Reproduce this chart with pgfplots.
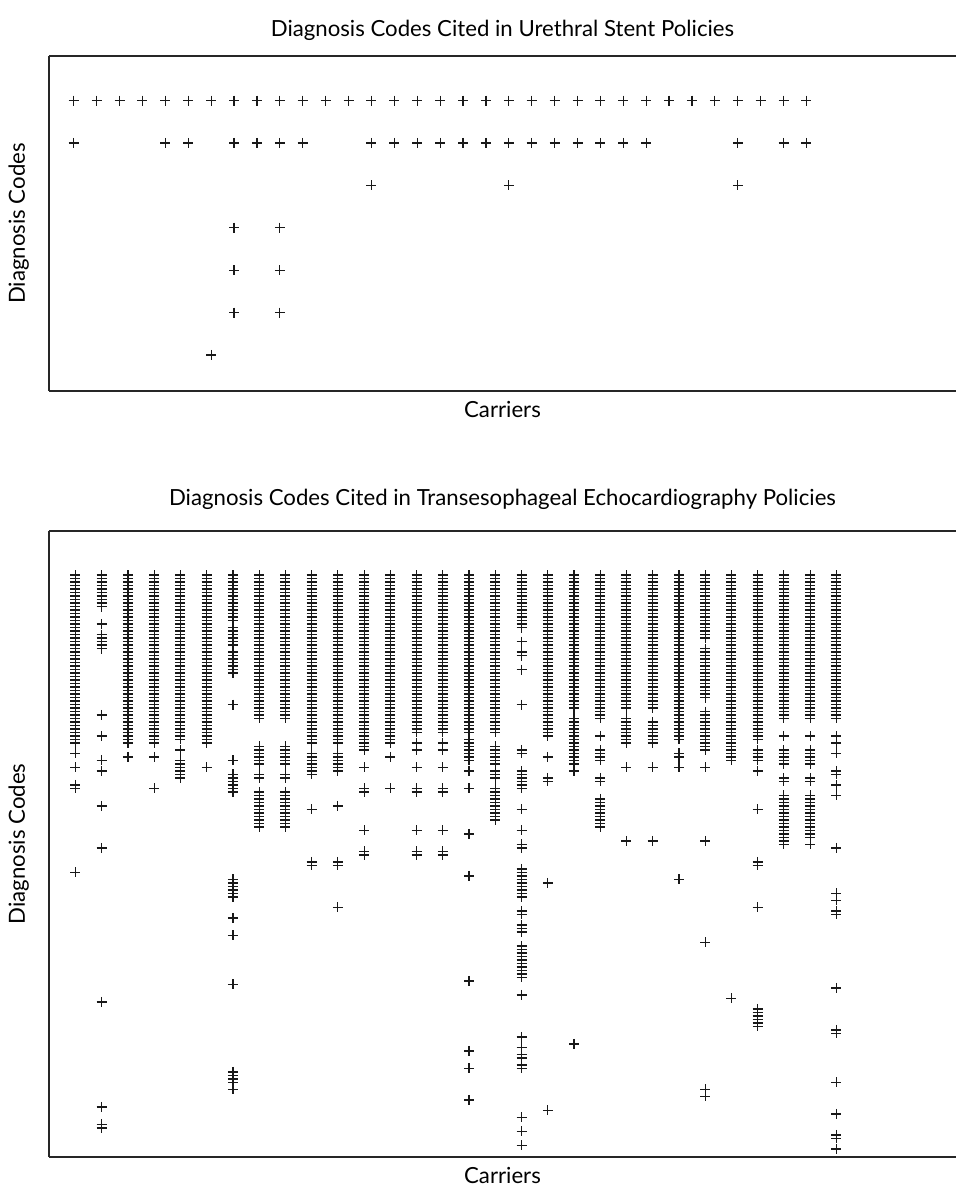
\documentclass[border=0pt]{standalone}
\usepackage{fontspec}
\setmainfont{Lato}
\usepackage{pgfplots}
\pgfplotsset{compat=1.18}

\pgfplotsset{
  dc/.style={only marks, mark=+, mark size=2.5pt, color=black!90, mark options={line width=0.6pt}},
  panel/.style={
    anchor=south west, scale only axis, width=453.5pt,
    font=\fontsize{11.1}{13}\selectfont,
    xtick=\empty, ytick=\empty, y dir=reverse,
    axis x line=box, axis y line=left,
    axis line style={-, line width=0.7pt, black!85},
    every axis x label/.style={at={(0.5,0)}, anchor=base, yshift=-13pt},
    every axis y label/.style={at={(-0.0265,0.5)}, anchor=base, rotate=90},
    xlabel={Carriers}, ylabel={Diagnosis Codes},
    clip=false,
  },
}

\begin{document}
\begin{tikzpicture}
\useasboundingbox (0,0) rectangle (478pt,-593.5pt);

% urethral stent: carrier 1..33, code row 1..7
\begin{axis}[panel, at={(24.5pt,-195.5pt)}, height=167.5pt,
  xmin=-0.08, xmax=39.53, ymin=-0.05, ymax=7.85,
  every axis title/.style={at={(0.5,1)}, anchor=base, yshift=10pt},
  title={Diagnosis Codes Cited in Urethral Stent Policies}]
\addplot[dc] coordinates {
 (1,1) (2,1) (3,1) (4,1) (5,1) (6,1) (7,1) (8,1) (9,1) (10,1) (11,1)
 (12,1) (13,1) (14,1) (15,1) (16,1) (17,1) (18,1) (19,1) (20,1) (21,1) (22,1)
 (23,1) (24,1) (25,1) (26,1) (27,1) (28,1) (29,1) (30,1) (31,1) (32,1) (33,1)
 (1,2) (5,2) (6,2) (8,2) (9,2) (10,2) (11,2) (14,2) (15,2) (16,2) (17,2)
 (18,2) (19,2) (20,2) (21,2) (22,2) (23,2) (24,2) (25,2) (26,2) (30,2) (32,2) (33,2)
 (14,3) (20,3) (30,3)
 (8,4) (10,4) (8,5) (10,5) (8,6) (10,6)
 (7,7)
};
\end{axis}

% transesophageal echocardiography: carrier 1..30, code index 0..164
\begin{axis}[panel, at={(24.5pt,-578.5pt)}, height=313pt,
  xmin=-0.01, xmax=34.56, ymin=-12.57, ymax=166.3,
  every axis title/.style={at={(0.5,1)}, anchor=base, yshift=13pt},
  title={Diagnosis Codes Cited in Transesophageal Echocardiography Policies},
  table/header=false, table/row sep=\\, table/y index=0]
\addplot[dc] table[x expr=1]{0\\1\\2\\3\\4\\5\\6\\7\\8\\9\\10\\11\\12\\13\\14\\15\\16\\17\\18\\19\\20\\21\\22\\23\\24\\25\\26\\27\\28\\29\\30\\31\\32\\33\\34\\35\\36\\37\\38\\39\\40\\41\\42\\43\\44\\45\\46\\47\\48\\51\\55\\60\\61\\85\\};
\addplot[dc] table[x expr=2]{0\\1\\2\\3\\4\\5\\6\\7\\8\\9\\14\\17\\18\\19\\20\\21\\40\\46\\53\\56\\66\\78\\122\\152\\157\\158\\};
\addplot[dc] table[x expr=3]{0\\1\\2\\3\\4\\5\\6\\7\\8\\9\\10\\11\\12\\13\\14\\15\\16\\17\\18\\19\\20\\21\\22\\23\\24\\25\\26\\27\\28\\29\\30\\31\\32\\33\\34\\35\\36\\37\\38\\39\\40\\41\\42\\43\\44\\45\\46\\47\\48\\52\\};
\addplot[dc] table[x expr=4]{0\\1\\2\\3\\4\\5\\6\\7\\8\\9\\10\\11\\12\\13\\14\\15\\16\\17\\18\\19\\20\\21\\22\\23\\24\\25\\26\\27\\28\\29\\30\\31\\32\\33\\34\\35\\36\\37\\38\\39\\40\\41\\42\\43\\44\\45\\46\\47\\48\\52\\61\\};
\addplot[dc] table[x expr=5]{0\\1\\2\\3\\4\\5\\6\\7\\8\\9\\10\\11\\12\\13\\14\\15\\16\\17\\18\\19\\20\\21\\22\\23\\24\\25\\26\\27\\28\\29\\30\\31\\32\\33\\34\\35\\36\\37\\38\\39\\40\\41\\42\\43\\44\\45\\46\\47\\50\\53\\54\\55\\56\\57\\58\\};
\addplot[dc] table[x expr=6]{0\\1\\2\\3\\4\\5\\6\\7\\8\\9\\10\\11\\12\\13\\14\\15\\16\\17\\18\\19\\20\\21\\22\\23\\24\\25\\26\\27\\28\\29\\30\\31\\32\\33\\34\\35\\36\\37\\38\\39\\40\\41\\42\\43\\44\\45\\46\\47\\48\\55\\};
\addplot[dc] table[x expr=7]{0\\1\\2\\3\\4\\5\\6\\7\\8\\9\\10\\11\\12\\13\\15\\16\\17\\18\\19\\20\\22\\23\\24\\25\\26\\27\\28\\37\\53\\57\\58\\59\\60\\61\\62\\87\\88\\89\\90\\91\\92\\98\\103\\117\\142\\143\\144\\145\\147\\};
\addplot[dc] table[x expr=8]{0\\1\\2\\3\\4\\5\\6\\7\\8\\9\\10\\11\\12\\13\\14\\15\\16\\17\\18\\19\\20\\21\\22\\23\\24\\25\\26\\27\\28\\29\\30\\31\\32\\33\\34\\35\\36\\37\\38\\39\\40\\41\\49\\50\\51\\52\\53\\54\\57\\58\\62\\63\\64\\65\\66\\67\\68\\69\\70\\71\\72\\};
\addplot[dc] table[x expr=9]{0\\1\\2\\3\\4\\5\\6\\7\\8\\9\\10\\11\\12\\13\\14\\15\\16\\17\\18\\19\\20\\21\\22\\23\\24\\25\\26\\27\\28\\29\\30\\31\\32\\33\\34\\35\\36\\37\\38\\39\\40\\41\\49\\50\\51\\52\\53\\54\\57\\58\\62\\63\\64\\65\\66\\67\\68\\69\\70\\71\\72\\};
\addplot[dc] table[x expr=10]{0\\1\\2\\3\\4\\5\\6\\7\\8\\9\\10\\11\\12\\13\\14\\15\\16\\17\\18\\19\\20\\21\\22\\23\\24\\25\\26\\27\\28\\29\\30\\31\\32\\33\\34\\35\\36\\37\\38\\39\\40\\41\\42\\43\\44\\45\\46\\47\\48\\51\\52\\53\\54\\55\\56\\57\\67\\82\\83\\};
\addplot[dc] table[x expr=11]{0\\1\\2\\3\\4\\5\\6\\7\\8\\9\\10\\11\\12\\13\\14\\15\\16\\17\\18\\19\\20\\21\\22\\23\\24\\25\\26\\27\\28\\29\\30\\31\\32\\33\\34\\35\\36\\37\\38\\39\\40\\41\\42\\43\\44\\45\\46\\47\\48\\51\\52\\53\\54\\55\\56\\66\\82\\83\\95\\};
\addplot[dc] table[x expr=12]{0\\1\\2\\3\\4\\5\\6\\7\\8\\9\\10\\11\\12\\13\\14\\15\\16\\17\\18\\19\\20\\21\\22\\23\\24\\25\\26\\27\\28\\29\\30\\31\\32\\33\\34\\35\\36\\37\\38\\39\\40\\41\\42\\43\\44\\45\\46\\47\\48\\49\\50\\55\\61\\62\\73\\79\\80\\};
\addplot[dc] table[x expr=13]{0\\1\\2\\3\\4\\5\\6\\7\\8\\9\\10\\11\\12\\13\\14\\15\\16\\17\\18\\19\\20\\21\\22\\23\\24\\25\\26\\27\\28\\29\\30\\31\\32\\33\\34\\35\\36\\37\\38\\39\\40\\41\\42\\43\\44\\45\\46\\47\\48\\52\\61\\};
\addplot[dc] table[x expr=14]{0\\1\\2\\3\\4\\5\\6\\7\\8\\9\\10\\11\\12\\13\\14\\15\\16\\17\\18\\19\\20\\21\\22\\23\\24\\25\\26\\27\\28\\29\\30\\31\\32\\33\\34\\35\\36\\37\\38\\39\\40\\41\\42\\43\\44\\45\\48\\50\\55\\61\\62\\73\\79\\80\\};
\addplot[dc] table[x expr=15]{0\\1\\2\\3\\4\\5\\6\\7\\8\\9\\10\\11\\12\\13\\14\\15\\16\\17\\18\\19\\20\\21\\22\\23\\24\\25\\26\\27\\28\\29\\30\\31\\32\\33\\34\\35\\36\\37\\38\\39\\40\\41\\42\\43\\44\\45\\48\\50\\55\\61\\62\\73\\79\\80\\};
\addplot[dc] table[x expr=16]{0\\1\\2\\3\\4\\5\\6\\7\\8\\9\\10\\11\\12\\13\\14\\15\\16\\17\\18\\19\\20\\21\\22\\23\\24\\25\\26\\27\\28\\29\\30\\31\\32\\33\\34\\35\\36\\37\\38\\39\\40\\41\\42\\43\\44\\45\\47\\48\\49\\50\\51\\52\\53\\56\\61\\74\\86\\116\\136\\141\\150\\};
\addplot[dc] table[x expr=17]{0\\1\\2\\3\\4\\5\\6\\7\\8\\9\\10\\11\\12\\13\\14\\15\\16\\17\\18\\19\\20\\21\\22\\23\\24\\25\\26\\27\\28\\29\\30\\31\\32\\33\\34\\35\\36\\37\\38\\39\\40\\41\\42\\43\\44\\45\\49\\50\\51\\52\\53\\54\\56\\57\\58\\61\\62\\63\\64\\65\\66\\67\\68\\69\\70\\};
\addplot[dc] table[x expr=18]{0\\1\\2\\3\\4\\5\\6\\7\\8\\9\\10\\11\\12\\13\\14\\15\\19\\22\\23\\27\\37\\50\\51\\56\\57\\58\\59\\60\\61\\67\\73\\77\\78\\84\\85\\86\\87\\88\\89\\90\\91\\92\\96\\97\\100\\101\\102\\106\\107\\108\\109\\110\\111\\112\\113\\114\\115\\120\\132\\135\\137\\138\\140\\141\\155\\159\\163\\};
\addplot[dc] table[x expr=19]{0\\1\\2\\3\\4\\5\\6\\7\\8\\9\\10\\11\\12\\13\\14\\15\\16\\17\\18\\19\\20\\21\\22\\23\\24\\25\\26\\27\\28\\29\\30\\31\\32\\33\\34\\35\\36\\37\\38\\39\\40\\41\\42\\43\\44\\45\\46\\52\\58\\59\\88\\153\\};
\addplot[dc] table[x expr=20]{0\\1\\2\\3\\4\\5\\6\\7\\8\\9\\10\\11\\12\\13\\14\\15\\16\\17\\18\\19\\20\\21\\22\\23\\24\\25\\26\\27\\28\\29\\30\\31\\32\\33\\34\\35\\36\\37\\38\\41\\42\\43\\44\\45\\46\\47\\48\\49\\50\\51\\52\\53\\54\\56\\134\\};
\addplot[dc] table[x expr=21]{0\\1\\2\\3\\4\\5\\6\\7\\8\\9\\10\\11\\12\\13\\14\\15\\16\\17\\18\\19\\20\\21\\22\\23\\24\\25\\26\\27\\28\\29\\30\\31\\32\\33\\34\\35\\36\\37\\38\\39\\40\\41\\46\\50\\51\\52\\53\\58\\59\\64\\65\\66\\67\\68\\69\\70\\71\\72\\};
\addplot[dc] table[x expr=22]{0\\1\\2\\3\\4\\5\\6\\7\\8\\9\\10\\11\\12\\13\\14\\15\\16\\17\\18\\19\\20\\21\\22\\23\\24\\25\\26\\27\\28\\29\\30\\31\\32\\33\\34\\35\\36\\37\\38\\41\\42\\43\\44\\45\\46\\47\\48\\55\\76\\};
\addplot[dc] table[x expr=23]{0\\1\\2\\3\\4\\5\\6\\7\\8\\9\\10\\11\\12\\13\\14\\15\\16\\17\\18\\19\\20\\21\\22\\23\\24\\25\\26\\27\\28\\29\\30\\31\\32\\33\\34\\35\\36\\37\\38\\42\\43\\44\\45\\46\\47\\48\\55\\76\\};
\addplot[dc] table[x expr=24]{0\\1\\2\\3\\4\\5\\6\\7\\8\\9\\10\\11\\12\\13\\14\\15\\16\\17\\18\\19\\20\\21\\22\\23\\24\\25\\26\\27\\28\\29\\30\\31\\32\\33\\34\\35\\36\\37\\38\\39\\40\\41\\42\\43\\44\\45\\46\\47\\51\\52\\55\\87\\};
\addplot[dc] table[x expr=25]{0\\1\\2\\3\\4\\5\\6\\7\\8\\9\\10\\11\\12\\13\\14\\15\\16\\17\\18\\21\\22\\23\\24\\25\\26\\27\\28\\29\\30\\31\\32\\33\\34\\35\\39\\40\\41\\42\\43\\44\\45\\46\\47\\48\\49\\50\\55\\76\\105\\147\\149\\};
\addplot[dc] table[x expr=26]{0\\1\\2\\3\\4\\5\\6\\7\\8\\9\\10\\11\\12\\13\\14\\15\\16\\17\\18\\19\\20\\21\\22\\23\\24\\25\\26\\27\\28\\29\\30\\31\\32\\33\\34\\35\\36\\37\\38\\39\\40\\41\\42\\43\\44\\45\\46\\47\\48\\49\\50\\51\\52\\53\\121\\};
\addplot[dc] table[x expr=27]{0\\1\\2\\3\\4\\5\\6\\7\\8\\9\\10\\11\\12\\13\\14\\15\\16\\17\\18\\19\\20\\21\\22\\23\\24\\25\\26\\27\\28\\29\\30\\31\\32\\33\\34\\35\\36\\37\\38\\39\\40\\41\\42\\43\\44\\45\\46\\47\\50\\51\\52\\53\\56\\67\\82\\83\\95\\124\\125\\126\\127\\128\\129\\};
\addplot[dc] table[x expr=28]{0\\1\\2\\3\\4\\5\\6\\7\\8\\9\\10\\11\\12\\13\\14\\15\\16\\17\\18\\19\\20\\21\\22\\23\\24\\25\\26\\27\\28\\29\\30\\31\\32\\33\\34\\35\\36\\37\\38\\39\\40\\41\\46\\50\\51\\52\\53\\54\\58\\59\\63\\64\\65\\66\\67\\68\\69\\70\\71\\72\\73\\74\\75\\76\\77\\};
\addplot[dc] table[x expr=29]{0\\1\\2\\3\\4\\5\\6\\7\\8\\9\\10\\11\\12\\13\\14\\15\\16\\17\\18\\19\\20\\21\\22\\23\\24\\25\\26\\27\\28\\29\\30\\31\\32\\33\\34\\35\\36\\37\\38\\39\\40\\41\\46\\50\\51\\52\\53\\54\\58\\59\\63\\64\\65\\66\\67\\68\\69\\70\\71\\72\\73\\74\\75\\77\\};
\addplot[dc] table[x expr=30]{0\\1\\2\\3\\4\\5\\6\\7\\8\\9\\10\\11\\12\\13\\14\\15\\16\\17\\18\\19\\20\\21\\22\\23\\24\\25\\26\\27\\28\\29\\30\\31\\32\\33\\34\\35\\36\\37\\38\\39\\40\\41\\46\\48\\51\\56\\57\\60\\63\\78\\91\\93\\96\\97\\118\\130\\131\\145\\154\\160\\161\\164\\};
\end{axis}
\end{tikzpicture}
\end{document}
